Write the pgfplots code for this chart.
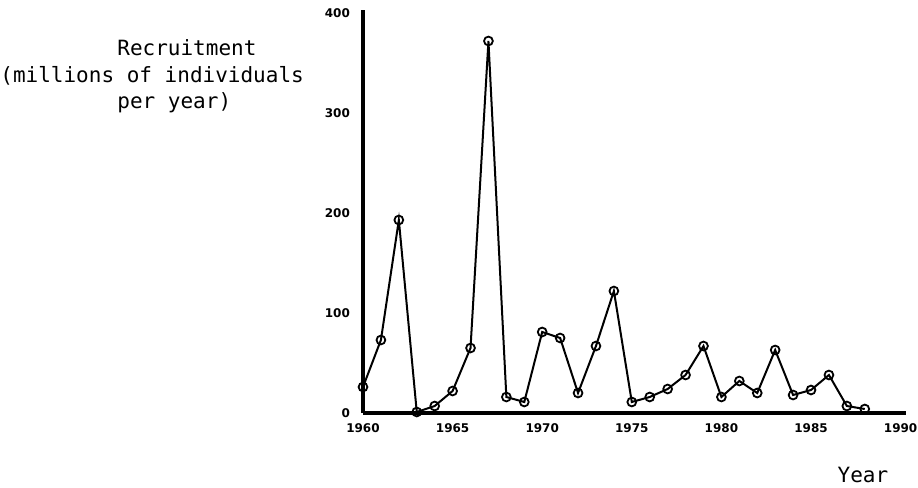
\documentclass[border=0pt]{standalone}
\usepackage{pgfplots}
\pgfplotsset{compat=1.18}
\usepackage{fontspec}
\setmainfont{DejaVu Sans}
\newfontfamily\monofont{DejaVu Sans Mono}
\begin{document}
\begin{tikzpicture}
\useasboundingbox (-181.5pt,-37.5pt) rectangle (277.5pt,206.5pt);
\begin{axis}[
  at={(0,0)}, anchor=south west,
  scale only axis, width=271.5pt, height=201.5pt,
  xmin=1960, xmax=1990.3, ymin=0, ymax=403,
  axis lines=left,
  axis line style={line width=1.6pt, -},
  xtick={1960,1965,...,1990}, ytick={0,100,...,400},
  major tick length=0pt,
  /pgf/number format/assume math mode=true,
  /pgf/number format/1000 sep={},
  x tick label style={font=\fontsize{6}{7}\selectfont\bfseries, yshift=-2pt},
  y tick label style={font=\fontsize{6}{7}\selectfont\bfseries, xshift=-3pt},
  clip=false,
]
\addplot[black, line width=1pt, mark=o, mark size=2.2pt,
  mark options={fill=white, line width=0.9pt}] coordinates {
  (1960,26) (1961,73) (1962,193) (1963,1) (1964,7) (1965,22) (1966,65)
  (1967,372) (1968,16) (1969,11) (1970,81) (1971,75) (1972,20) (1973,67)
  (1974,122) (1975,11) (1976,16) (1977,24) (1978,38) (1979,67) (1980,16)
  (1981,32) (1982,20) (1983,63) (1984,18) (1985,23) (1986,38) (1987,7) (1988,4)
};
\end{axis}
\node[anchor=west, font=\monofont\fontsize{10.5}{12}\selectfont, inner sep=0pt] at (-123pt,182.5pt) {Recruitment};
\node[anchor=west, font=\monofont\fontsize{10.5}{12}\selectfont, inner sep=0pt] at (-181.5pt,168.5pt) {(millions of individuals};
\node[anchor=west, font=\monofont\fontsize{10.5}{12}\selectfont, inner sep=0pt] at (-123pt,155pt) {per year)};
\node[font=\monofont\fontsize{10.5}{12}\selectfont, inner sep=0pt] at (250pt,-31pt) {Year};
\end{tikzpicture}
\end{document}
